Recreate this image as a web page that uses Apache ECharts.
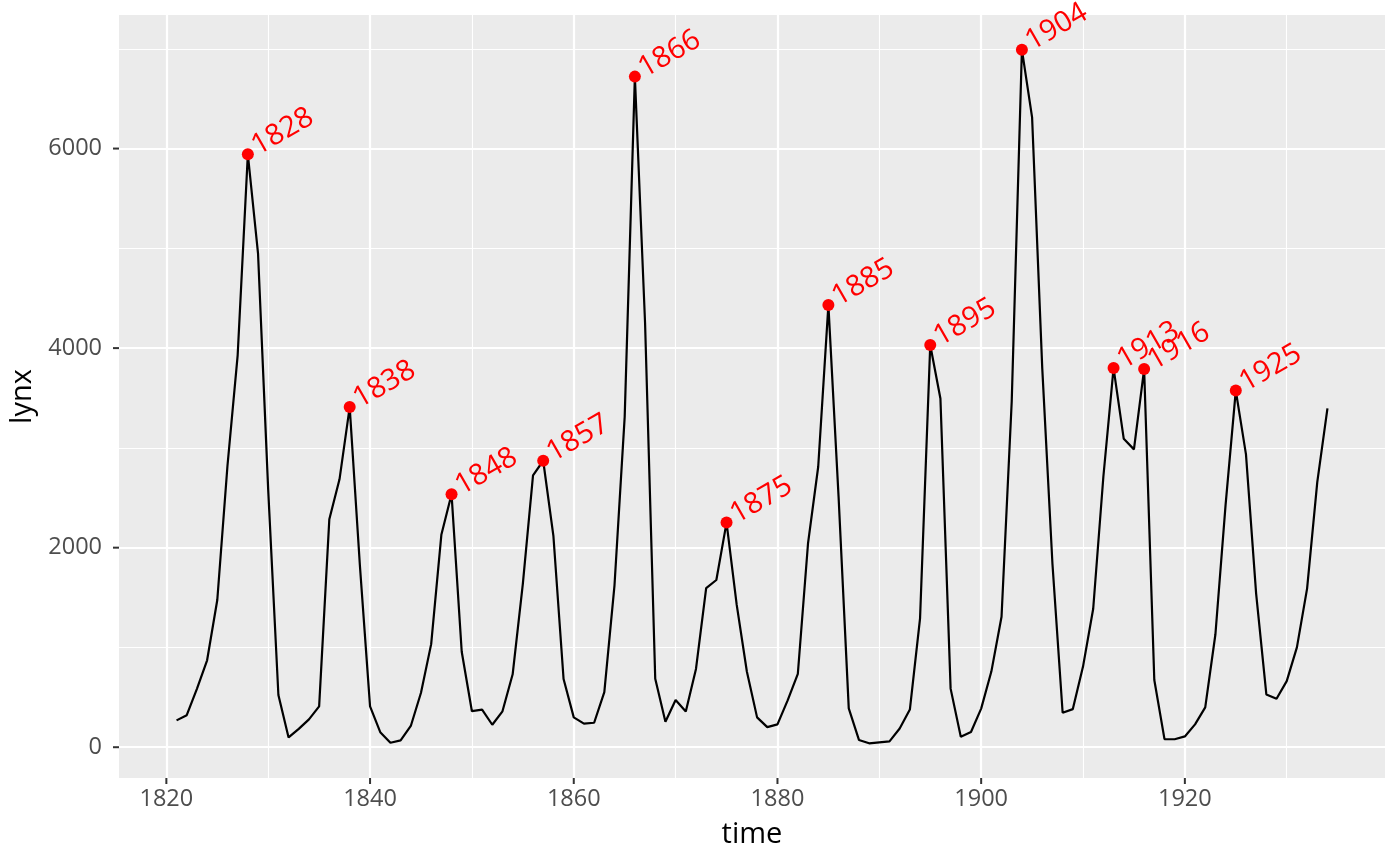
<!DOCTYPE html>
<html>
<head>
<meta charset="utf-8">
<script src="https://cdn.jsdelivr.net/npm/echarts@6/dist/echarts.min.js"></script>
<style>
  html, body { margin: 0; padding: 0; background: #fff; }
  #main { width: 1400px; height: 866px; }
</style>
</head>
<body>
<div id="main"></div>
<script>
// lynx trappings, 1821-1934
var startYear = 1821;
var lynx = [269, 321, 585, 871, 1475, 2821, 3928, 5943, 4950, 2577, 523, 98, 184, 279, 409, 2285, 2685, 3409, 1824, 409,
  151, 45, 68, 213, 546, 1033, 2129, 2536, 957, 361, 377, 225, 360, 731, 1638, 2725, 2871, 2119, 684, 299,
  236, 245, 552, 1623, 3311, 6721, 4254, 687, 255, 473, 358, 784, 1594, 1676, 2251, 1426, 756, 299, 201, 229,
  469, 736, 2042, 2811, 4431, 2511, 389, 73, 39, 49, 59, 188, 377, 1292, 4031, 3495, 587, 105, 153, 387,
  758, 1307, 3465, 6991, 6313, 3794, 1836, 345, 382, 808, 1388, 2713, 3800, 3091, 2985, 3790, 674, 81, 80, 108,
  229, 399, 1132, 2432, 3574, 2935, 1537, 529, 485, 662, 1000, 1590, 2657, 3396];
var peakYears = [1828, 1838, 1848, 1857, 1866, 1875, 1885, 1895, 1904, 1913, 1916, 1925];

var xMajor = [1820, 1840, 1860, 1880, 1900, 1920];
var xMinor = [1830, 1850, 1870, 1890, 1910, 1930];
var yMajor = [0, 2000, 4000, 6000];
var yMinor = [1000, 3000, 5000, 7000];

var lineData = lynx.map(function (v, i) { return [startYear + i, v]; });
var peakData = peakYears.map(function (y) { return [y, lynx[y - startYear]]; });

// ggplot-style 5% expansion
var xMin = 1821 - 113 * 0.05, xMax = 1934 + 113 * 0.05;
var yLo = 39, yHi = 6991;
var yMin = yLo - (yHi - yLo) * 0.05, yMax = yHi + (yHi - yLo) * 0.05;

function gridLines(vals, axis, w) {
  return vals.map(function (v) {
    var o = {};
    o[axis] = v;
    o.lineStyle = { width: w };
    return o;
  });
}

function plain(v) { return String(v); }

// tick marks sit on the panel edges, just outside
var xTickData = xMajor.map(function (v) { return [v, yMin]; });
var yTickData = yMajor.map(function (v) { return [xMin, v]; });

var chart = echarts.init(document.getElementById('main'));
chart.setOption({
  backgroundColor: '#ffffff',
  animation: false,
  grid: {
    left: 119, right: 15, top: 15, bottom: 88,
    outerBoundsMode: 'none', containLabel: false,
    backgroundColor: '#EBEBEB', show: true, borderWidth: 0
  },
  xAxis: {
    type: 'value', min: xMin, max: xMax,
    name: 'time', nameLocation: 'middle', nameGap: 42,
    nameTextStyle: { fontFamily: 'Open Sans', fontSize: 29, color: '#000' },
    axisLine: { show: false, onZero: false },
    axisTick: { show: false },
    axisLabel: { fontFamily: 'Open Sans', fontSize: 23.5, color: '#4D4D4D', margin: 9, customValues: xMajor, formatter: plain },
    splitLine: { show: false }
  },
  yAxis: {
    type: 'value', min: yMin, max: yMax,
    name: 'lynx', nameLocation: 'middle', nameGap: 79, nameRotate: 90,
    nameTextStyle: { fontFamily: 'Open Sans', fontSize: 29, color: '#000' },
    axisLine: { show: false, onZero: false },
    axisTick: { show: false },
    axisLabel: { fontFamily: 'Open Sans', fontSize: 23.5, color: '#4D4D4D', margin: 17, customValues: yMajor, formatter: plain },
    splitLine: { show: false }
  },
  series: [
    {
      type: 'line', data: [], silent: true, z: 0,
      markLine: {
        silent: true, symbol: 'none', label: { show: false }, z: 0,
        lineStyle: { color: '#ffffff', type: 'solid' },
        data: gridLines(xMinor, 'xAxis', 1.1).concat(gridLines(yMinor, 'yAxis', 1.1))
          .concat(gridLines(xMajor, 'xAxis', 2.2)).concat(gridLines(yMajor, 'yAxis', 2.2))
      }
    },
    {
      type: 'scatter', data: xTickData, silent: true, clip: false,
      symbol: 'rect', symbolSize: [2, 6], symbolOffset: [0, 3],
      itemStyle: { color: '#333333', opacity: 1 }
    },
    {
      type: 'scatter', data: yTickData, silent: true, clip: false,
      symbol: 'rect', symbolSize: [6, 2], symbolOffset: [-3, 0],
      itemStyle: { color: '#333333', opacity: 1 }
    },
    {
      type: 'line', data: lineData, showSymbol: false, symbol: 'none',
      lineStyle: { color: '#000', width: 2.2 }, z: 3
    },
    {
      type: 'scatter', data: peakData, symbolSize: 12, z: 5,
      itemStyle: { color: '#FF0000', opacity: 1 },
      label: {
        show: true, position: [12, 0], rotate: 30,
        align: 'left', verticalAlign: 'middle',
        fontFamily: 'Open Sans', fontSize: 29, color: '#FF0000',
        formatter: function (p) { return String(p.value[0]); }
      }
    }
  ]
});
</script>
</body>
</html>
